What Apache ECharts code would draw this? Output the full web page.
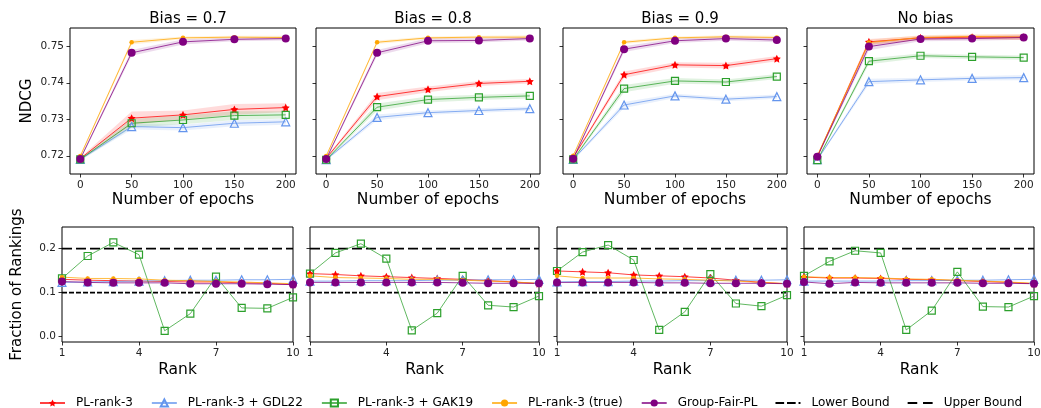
<!DOCTYPE html>
<html>
<head>
<meta charset="utf-8">
<script src="https://cdn.jsdelivr.net/npm/echarts@6/dist/echarts.min.js"></script>
<style>html,body{margin:0;padding:0;background:#fff}#c{width:1041px;height:408px}</style>
</head>
<body>
<div id="c"></div>
<script>
// ---------- DATA ----------
const panelTitles = ['Bias = 0.7', 'Bias = 0.8', 'Bias = 0.9', 'No bias'];
const epochs = [0, 50, 100, 150, 200];
const ranks = [1, 2, 3, 4, 5, 6, 7, 8, 9, 10];
const epochTicks = [0, 50, 100, 150, 200];
const ndcgTicks = [0.72, 0.73, 0.74, 0.75];
const rankTicks = [1, 4, 7, 10];
const fracTicks = [0.0, 0.1, 0.2];
const methodNames = ['PL-rank-3', 'PL-rank-3 + GDL22', 'PL-rank-3 + GAK19', 'PL-rank-3 (true)', 'Group-Fair-PL'];
const boundNames = ['Lower Bound', 'Upper Bound'];
const lowerBound = 0.1;
const upperBound = 0.2;

// NDCG means, one row per panel
const ndcgPL = [
  [0.7192, 0.7303, 0.7312, 0.7327, 0.7332],
  [0.7193, 0.7362, 0.7382, 0.7398, 0.7404],
  [0.7195, 0.7422, 0.7449, 0.7447, 0.7466],
  [0.7198, 0.7512, 0.7523, 0.7525, 0.7525]
];
const ndcgGDL = [
  [0.7190, 0.7280, 0.7277, 0.7289, 0.7293],
  [0.7189, 0.7305, 0.7318, 0.7324, 0.7329],
  [0.7190, 0.7339, 0.7364, 0.7355, 0.7362],
  [0.7189, 0.7403, 0.7408, 0.7412, 0.7414]
];
const ndcgGAK = [
  [0.7190, 0.7289, 0.7298, 0.7310, 0.7312],
  [0.7189, 0.7333, 0.7354, 0.7360, 0.7364],
  [0.7190, 0.7384, 0.7405, 0.7402, 0.7417],
  [0.7188, 0.7459, 0.7474, 0.7471, 0.7469]
];
const ndcgTrue = [
  [0.7199, 0.7511, 0.7523, 0.7525, 0.7524],
  [0.7199, 0.7511, 0.7523, 0.7525, 0.7525],
  [0.7200, 0.7511, 0.7523, 0.7526, 0.7524],
  [0.7200, 0.7510, 0.7524, 0.7527, 0.7525]
];
const ndcgGF = [
  [0.7191, 0.7482, 0.7512, 0.7519, 0.7521],
  [0.7191, 0.7482, 0.7515, 0.7516, 0.7521],
  [0.7192, 0.7492, 0.7515, 0.7521, 0.7517],
  [0.7197, 0.7499, 0.7520, 0.7521, 0.7524]
];
// NDCG standard deviations (band half-widths)
const stdPL = [
  [0.0003, 0.0018, 0.0012, 0.0015, 0.0012],
  [0.0003, 0.0010, 0.0008, 0.0007, 0.0006],
  [0.0003, 0.0009, 0.0007, 0.0008, 0.0007],
  [0.0003, 0.0008, 0.0006, 0.0006, 0.0008]
];
const stdGDL = [
  [0.0003, 0.0008, 0.0008, 0.0008, 0.0008],
  [0.0003, 0.0008, 0.0006, 0.0006, 0.0006],
  [0.0003, 0.0008, 0.0006, 0.0006, 0.0006],
  [0.0003, 0.0008, 0.0006, 0.0006, 0.0007]
];
const stdGAK = [
  [0.0003, 0.0012, 0.0012, 0.0012, 0.0010],
  [0.0003, 0.0010, 0.0008, 0.0007, 0.0007],
  [0.0003, 0.0010, 0.0008, 0.0007, 0.0007],
  [0.0003, 0.0008, 0.0006, 0.0006, 0.0006]
];
const stdTrue = [
  [0.0003, 0.0006, 0.0004, 0.0004, 0.0005],
  [0.0003, 0.0005, 0.0004, 0.0004, 0.0005],
  [0.0003, 0.0005, 0.0004, 0.0004, 0.0005],
  [0.0003, 0.0008, 0.0006, 0.0006, 0.0008]
];
const stdGF = [
  [0.0003, 0.0008, 0.0007, 0.0005, 0.0005],
  [0.0003, 0.0008, 0.0007, 0.0006, 0.0005],
  [0.0003, 0.0008, 0.0006, 0.0006, 0.0006],
  [0.0003, 0.0010, 0.0006, 0.0006, 0.0006]
];

// Fraction of rankings per rank, one row per panel
const fracPL = [
  [0.130, 0.128, 0.127, 0.126, 0.125, 0.124, 0.124, 0.122, 0.121, 0.118],
  [0.143, 0.141, 0.138, 0.136, 0.134, 0.132, 0.130, 0.127, 0.124, 0.120],
  [0.149, 0.147, 0.145, 0.140, 0.138, 0.136, 0.133, 0.128, 0.123, 0.120],
  [0.135, 0.133, 0.133, 0.132, 0.130, 0.129, 0.127, 0.125, 0.123, 0.120]
];
const fracGDL = [
  [0.123, 0.124, 0.125, 0.126, 0.127, 0.128, 0.128, 0.129, 0.129, 0.130],
  [0.126, 0.126, 0.127, 0.127, 0.127, 0.128, 0.128, 0.129, 0.129, 0.130],
  [0.124, 0.125, 0.125, 0.126, 0.126, 0.127, 0.127, 0.128, 0.128, 0.129],
  [0.126, 0.126, 0.126, 0.126, 0.127, 0.127, 0.128, 0.128, 0.129, 0.130]
];
const fracGAK = [
  [0.132, 0.183, 0.214, 0.186, 0.013, 0.052, 0.136, 0.065, 0.064, 0.089],
  [0.143, 0.190, 0.211, 0.177, 0.014, 0.053, 0.138, 0.071, 0.067, 0.092],
  [0.149, 0.192, 0.208, 0.174, 0.015, 0.056, 0.142, 0.075, 0.069, 0.094],
  [0.138, 0.171, 0.195, 0.190, 0.015, 0.059, 0.147, 0.068, 0.067, 0.092]
];
const fracTrue = [
  [0.135, 0.132, 0.132, 0.131, 0.128, 0.127, 0.125, 0.124, 0.122, 0.120],
  [0.138, 0.134, 0.133, 0.132, 0.130, 0.130, 0.128, 0.126, 0.124, 0.121],
  [0.138, 0.133, 0.133, 0.133, 0.131, 0.130, 0.128, 0.126, 0.123, 0.120],
  [0.136, 0.134, 0.134, 0.133, 0.131, 0.130, 0.128, 0.126, 0.124, 0.121]
];
const fracGF = [
  [0.125, 0.123, 0.122, 0.122, 0.122, 0.120, 0.120, 0.120, 0.119, 0.118],
  [0.123, 0.123, 0.123, 0.123, 0.123, 0.123, 0.122, 0.121, 0.121, 0.121],
  [0.123, 0.123, 0.123, 0.123, 0.122, 0.122, 0.121, 0.121, 0.121, 0.120],
  [0.124, 0.120, 0.123, 0.122, 0.122, 0.122, 0.122, 0.121, 0.121, 0.120]
];

// ---------- STYLE ----------
const FONT = 'DejaVu Sans';
const STAR = 'path://M0,-10 L2.94,-4.05 9.51,-3.09 4.76,1.55 5.88,8.09 0,5 -5.88,8.09 -4.76,1.55 -9.51,-3.09 -2.94,-4.05 Z';
const methodStyles = [
  { color: '#ff0000', symbol: STAR, size: 8, hollow: false },
  { color: '#6495ed', symbol: 'triangle', size: 8, hollow: true },
  { color: '#2ca02c', symbol: 'rect', size: 7, hollow: true },
  { color: '#ffa500', symbol: 'circle', size: 4.5, hollow: false },
  { color: '#800080', symbol: 'circle', size: 8, hollow: false }
];
const ndcgMeans = [ndcgPL, ndcgGDL, ndcgGAK, ndcgTrue, ndcgGF];
const ndcgStds = [stdPL, stdGDL, stdGAK, stdTrue, stdGF];
const fracMeans = [fracPL, fracGDL, fracGAK, fracTrue, fracGF];

const topLayout = [[70, 226], [316, 224], [563, 224], [807, 227]];
const botLayout = [[62, 231], [310, 229], [557, 230], [804, 230]];

const grids = [], xAxes = [], yAxes = [], titles = [], series = [];

function rgba(hex, a) {
  const n = parseInt(hex.slice(1), 16);
  return 'rgba(' + ((n >> 16) & 255) + ',' + ((n >> 8) & 255) + ',' + (n & 255) + ',' + a + ')';
}

const axisBase = {
  splitLine: { show: false },
  axisLine: { show: false, onZero: false },
  axisTick: { show: true, inside: false, length: 3.5, lineStyle: { color: '#000', width: 0.8 } },
  axisLabel: { color: '#222', fontFamily: FONT, fontSize: 10.5 },
  nameTextStyle: { color: '#000', fontFamily: FONT, fontSize: 15.5 }
};

function bandSeries(gIdx, xs, mean, sd, color) {
  const rows = xs.map((x, i) => [x, mean[i] - sd[i], mean[i] + sd[i]]);
  return {
    type: 'custom', xAxisIndex: gIdx, yAxisIndex: gIdx, silent: true, z: 1,
    data: rows, encode: { x: 0, y: [1, 2] },
    renderItem: function (params, api) {
      if (params.dataIndex !== 0) return null;
      const up = rows.map(r => api.coord([r[0], r[2]]));
      const lo = rows.map(r => api.coord([r[0], r[1]])).reverse();
      return { type: 'polygon', shape: { points: up.concat(lo) }, style: { fill: color } };
    }
  };
}

for (let p = 0; p < 4; p++) {
  grids.push({ left: topLayout[p][0], width: topLayout[p][1], top: 28, height: 146,
    show: true, borderColor: '#000', borderWidth: 1, backgroundColor: 'transparent', outerBoundsMode: 'none', containLabel: false });
  grids.push({ left: botLayout[p][0], width: botLayout[p][1], top: 227, height: 115,
    show: true, borderColor: '#000', borderWidth: 1, backgroundColor: 'transparent', outerBoundsMode: 'none', containLabel: false });
  const gt = 2 * p, gb = 2 * p + 1;

  xAxes.push(Object.assign({}, axisBase, {
    gridIndex: gt, type: 'value', min: -10, max: 210, position: 'bottom',
    name: 'Number of epochs', nameLocation: 'middle', nameGap: 18,
    axisTick: Object.assign({}, axisBase.axisTick, { customValues: epochTicks }),
    axisLabel: Object.assign({}, axisBase.axisLabel, { customValues: epochTicks, margin: 6 })
  }));
  yAxes.push(Object.assign({}, axisBase, {
    gridIndex: gt, type: 'value', min: 0.715, max: 0.755, position: 'left',
    name: p === 0 ? 'NDCG' : '', nameLocation: 'middle', nameGap: 35, nameRotate: 90,
    nameTextStyle: Object.assign({}, axisBase.nameTextStyle, { fontSize: 15 }),
    axisTick: Object.assign({}, axisBase.axisTick, { customValues: ndcgTicks }),
    axisLabel: Object.assign({}, axisBase.axisLabel, { show: true, customValues: ndcgTicks, margin: 6,
      formatter: v => (p === 0 ? v.toFixed(2) : '') })
  }));
  xAxes.push(Object.assign({}, axisBase, {
    gridIndex: gb, type: 'value', min: 1, max: 10, interval: 3, position: 'bottom',
    name: 'Rank', nameLocation: 'middle', nameGap: 20,
    axisTick: Object.assign({}, axisBase.axisTick, { customValues: rankTicks }),
    axisLabel: Object.assign({}, axisBase.axisLabel, { customValues: rankTicks, margin: 6 })
  }));
  yAxes.push(Object.assign({}, axisBase, {
    gridIndex: gb, type: 'value', min: -0.0125, max: 0.249, position: 'left',
    name: p === 0 ? 'Fraction of Rankings' : '', nameLocation: 'middle', nameGap: 37, nameRotate: 90,
    nameTextStyle: Object.assign({}, axisBase.nameTextStyle, { fontSize: 15 }),
    axisTick: Object.assign({}, axisBase.axisTick, { customValues: fracTicks }),
    axisLabel: Object.assign({}, axisBase.axisLabel, { show: true, customValues: fracTicks, margin: 6,
      formatter: v => (p === 0 ? v.toFixed(1) : '') })
  }));

  titles.push({ text: panelTitles[p], left: topLayout[p][0] + topLayout[p][1] / 2, top: 7, textAlign: 'center',
    textStyle: { fontFamily: FONT, fontSize: 15, fontWeight: 'normal', color: '#000' } });

  for (let m = 0; m < 5; m++) {
    series.push(bandSeries(gt, epochs, ndcgMeans[m][p], ndcgStds[m][p], rgba(methodStyles[m].color, 0.14)));
  }
  for (let m = 0; m < 5; m++) {
    const st = methodStyles[m];
    series.push({
      type: 'line', name: methodNames[m], xAxisIndex: gt, yAxisIndex: gt,
      data: epochs.map((x, i) => [x, ndcgMeans[m][p][i]]),
      symbol: st.symbol, symbolSize: st.size, showAllSymbol: true,
      lineStyle: { color: rgba(st.color, 0.75), width: 1 },
      itemStyle: st.hollow ? { color: 'rgba(255,255,255,0)', borderColor: st.color, borderWidth: 1.2 }
                           : { color: st.color, borderWidth: 0 },
      emphasis: { disabled: true }, z: 3, clip: false
    });
  }
  for (let m = 0; m < 5; m++) {
    const st = methodStyles[m];
    series.push({
      type: 'line', name: methodNames[m], xAxisIndex: gb, yAxisIndex: gb,
      data: ranks.map((x, i) => [x, fracMeans[m][p][i]]),
      symbol: st.symbol, symbolSize: st.size, showAllSymbol: true,
      lineStyle: { color: rgba(st.color, 0.75), width: 1 },
      itemStyle: st.hollow ? { color: 'rgba(255,255,255,0)', borderColor: st.color, borderWidth: 1.2 }
                           : { color: st.color, borderWidth: 0 },
      emphasis: { disabled: true }, z: 3
    });
  }
  series.push({ type: 'line', name: 'Lower Bound', xAxisIndex: gb, yAxisIndex: gb,
    data: [[ranks[0], lowerBound], [ranks[ranks.length - 1], lowerBound]], symbol: 'none',
    lineStyle: { color: '#000', width: 1.8, type: [5, 2] }, itemStyle: { color: '#000' }, z: 2, silent: true });
  series.push({ type: 'line', name: 'Upper Bound', xAxisIndex: gb, yAxisIndex: gb,
    data: [[ranks[0], upperBound], [ranks[ranks.length - 1], upperBound]], symbol: 'none',
    lineStyle: { color: '#000', width: 1.8, type: [10, 4] }, itemStyle: { color: '#000' }, z: 2, silent: true });
}

const LOWER_ICON = 'path://M0,0h9v2h-9z M12,0h9v2h-9z M24,0h2v2h-2z';
const UPPER_ICON = 'path://M0,0h10v2h-10z M16,0h10v2h-10z';

const option = {
  animation: false,
  backgroundColor: '#fff',
  title: titles,
  grid: grids,
  xAxis: xAxes,
  yAxis: yAxes,
  legend: {
    data: methodNames.map(n => ({ name: n })).concat([
      { name: boundNames[0], icon: LOWER_ICON },
      { name: boundNames[1], icon: UPPER_ICON }
    ]),
    left: 34, top: 392, orient: 'horizontal',
    itemWidth: 25, itemHeight: 9, itemGap: 18,
    textStyle: { fontFamily: FONT, fontSize: 12, color: '#000', padding: [0, 0, 0, 6] },
    selectedMode: false
  },
  series: series
};

const chart = echarts.init(document.getElementById('c'), null, { renderer: 'canvas' });
chart.setOption(option);
</script>
</body>
</html>
